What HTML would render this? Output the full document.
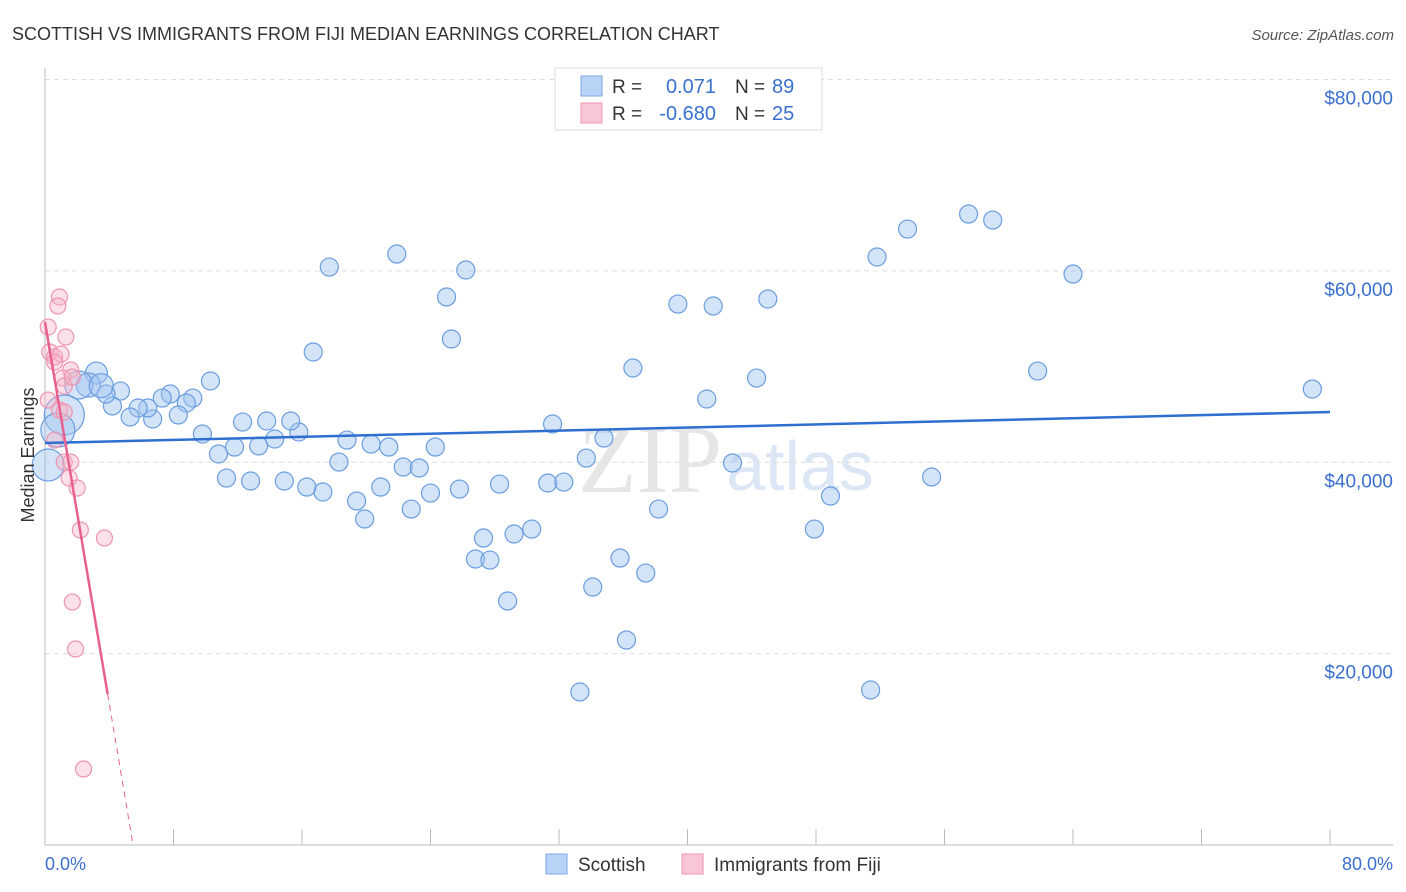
<!DOCTYPE html>
<html><head><meta charset="utf-8"><style>
body{margin:0;background:#fff;font-family:"Liberation Sans",sans-serif;}
svg{display:block}
</style></head><body>
<svg id="chart" width="1406" height="892" xmlns="http://www.w3.org/2000/svg">
<text x="12" y="40" font-size="18" fill="#333">SCOTTISH VS IMMIGRANTS FROM FIJI MEDIAN EARNINGS CORRELATION CHART</text>
<text x="1394" y="40" font-size="15" fill="#555" font-style="italic" text-anchor="end">Source: ZipAtlas.com</text>
<text x="650" y="492" font-size="96" fill="#e6e6e6" font-family="Liberation Serif,serif" text-anchor="middle">ZIP</text>
<text x="800" y="490" font-size="70" fill="#dce7f5" text-anchor="middle">atlas</text>
<g id="grid"></g>
<g id="axes"></g>
<g id="pts"></g>
<g id="lines"></g>
<text transform="translate(34,455) rotate(-90)" font-size="18" fill="#333" text-anchor="middle">Median Earnings</text>
<text x="45" y="870" font-size="18" fill="#3a70cf">0.0%</text>
<text x="1393" y="870" font-size="18" fill="#3a70cf" text-anchor="end">80.0%</text>
<g>
<rect x="555" y="68" width="267" height="62" fill="#fff" stroke="#ddd"/>
<rect x="581" y="76" width="21" height="20" fill="#b8d3f5" stroke="#7aa7e6"/>
<rect x="581" y="103" width="21" height="20" fill="#f9c6d6" stroke="#ee96b2"/>
<text x="612" y="93" font-size="19" fill="#333">R = </text><text x="716" y="93" font-size="20" fill="#3a70cf" text-anchor="end">0.071</text>
<text x="735" y="93" font-size="19" fill="#333">N = </text><text x="772" y="93" font-size="20" fill="#3a70cf">89</text>
<text x="612" y="120" font-size="19" fill="#333">R = </text><text x="716" y="120" font-size="20" fill="#3a70cf" text-anchor="end">-0.680</text>
<text x="735" y="120" font-size="19" fill="#333">N = </text><text x="772" y="120" font-size="20" fill="#3a70cf">25</text>
</g>
<g>
<rect x="546" y="854" width="21" height="20" fill="#b8d3f5" stroke="#7aa7e6"/>
<text x="578" y="871" font-size="19" fill="#333">Scottish</text>
<rect x="682" y="854" width="21" height="20" fill="#f9c6d6" stroke="#ee96b2"/>
<text x="714" y="871" font-size="19" fill="#333">Immigrants from Fiji</text>
</g>
</svg>
<script>
const yTicks=[20000,40000,60000,80000];
const yTickLabels=["$20,000","$40,000","$60,000","$80,000"];
const blueX=[17.7,21.9,26.2,25.0,25.3,16.7,57.5,59.0,53.7,51.8,64.0,39.4,41.6,45.0,36.6,44.3,61.8,78.9,41.2,31.6,34.8,33.7,42.8,55.2,48.9,38.2,47.9,31.3,32.3,35.8,37.4,34.1,36.2,33.3,51.4,28.8,27.3,26.8,27.7,29.2,30.3,28.3,25.8,24.0,22.8,24.3,22.3,23.3,21.4,20.3,18.8,18.3,20.9,19.4,19.9,17.3,16.3,14.9,12.8,11.3,10.8,11.8,13.3,14.3,15.8,15.3,13.8,12.3,9.8,10.3,9.2,8.8,7.8,7.3,8.3,6.7,6.4,5.8,5.3,4.7,4.2,3.8,3.2,2.7,2.1,1.2,0.8,0.2,3.5];
const blueY=[60400,61760,60090,57270,52880,51520,65940,65310,64370,61450,59670,56530,56330,57060,49850,48800,49530,47650,46610,44000,42530,40440,39920,38460,36470,35110,33020,37830,37930,29990,28420,26960,21420,15990,16200,25500,32080,29890,29780,32500,33020,37720,37200,36780,35110,41590,39500,39400,41590,41900,42320,40020,37410,35950,34070,36890,37410,38040,38040,38350,40860,41590,41700,42430,43160,44310,44310,44200,42950,48490,46710,46190,47130,46710,44940,44520,45670,45670,44730,47440,45880,47130,49320,48070,48070,44940,43370,39710,48000];
const blueR=[9,9,9,9,9,9,9,9,9,9,9,9,9,9,9,9,9,9,9,9,9,9,9,9,9,9,9,9,9,9,9,9,9,9,9,9,9,9,9,9,9,9,9,9,9,9,9,9,9,9,9,9,9,9,9,9,9,9,9,9,9,9,9,9,9,9,9,9,9,9,9,9,9,9,9,9,9,9,9,9,9,9,11,12,14,20,17,16,12];
const pinkX=[0.9,0.8,0.2,1.3,0.3,0.6,1.0,0.6,1.6,1.1,1.2,1.7,0.2,0.9,1.2,0.6,1.2,1.6,1.5,2.0,2.2,3.7,1.7,1.9,2.4];
const pinkY=[57270,56330,54130,53090,51520,51000,51310,50470,49640,48800,47960,48910,46500,45460,45250,42320,40020,40020,38350,37310,32920,32080,25390,20480,7940];
const blueTrend=[42010,45250];
const pinkTrend=[54650,-9967];
const X0=45,X1=1330,Y0=845,YPX=765.5/80000;
const sx=v=>X0+(v/80)*(X1-X0);
const sy=v=>Y0-v*YPX;
const NS="http://www.w3.org/2000/svg";
function mk(tag,attrs,parent){const e=document.createElementNS(NS,tag);for(const k in attrs)e.setAttribute(k,attrs[k]);document.getElementById(parent).appendChild(e);return e;}
yTicks.forEach((t,i)=>{
 const l=mk('line',{x1:X0,x2:1393,y1:sy(t),y2:sy(t),stroke:'#ddd','stroke-dasharray':'5,4'},'grid');
 
 
 const tx=mk('text',{x:1393,y:sy(t)+25,'font-size':19,fill:'#3a70cf','text-anchor':'end'},'grid');
 tx.textContent=yTickLabels[i];
 
 
});
const ax=mk('line',{x1:X0,x2:X0,y1:68,y2:Y0,stroke:'#bbb'},'axes');


const bx=mk('line',{x1:X0,x2:1393,y1:Y0,y2:Y0,stroke:'#bbb'},'axes');


for(let i=0;i<=10;i++){
 const t=mk('line',{x1:sx(i*8),x2:sx(i*8),y1:Y0,y2:Y0-16,stroke:'#bbb'},'axes');
 
 
}
blueX.forEach((x,i)=>{
 const c=mk('circle',{cx:sx(x),cy:sy(blueY[i]),r:blueR[i],fill:'rgba(160,195,240,0.45)',stroke:'#6a9de0','stroke-width':1.2},'pts');
 
 
});
pinkX.forEach((x,i)=>{
 const c=mk('circle',{cx:sx(x),cy:sy(pinkY[i]),r:8,fill:'rgba(248,180,200,0.4)',stroke:'#ee95b0','stroke-width':1.2},'pts');
 
 
});
const bl=mk('line',{x1:sx(0),y1:sy(blueTrend[0]),x2:sx(80),y2:sy(blueTrend[1]),stroke:'#2f6fd0','stroke-width':2.5},'lines');


const pf=x=>pinkTrend[0]+pinkTrend[1]*x;
const pl=mk('line',{x1:sx(0),y1:sy(pf(0)),x2:sx(3.9),y2:sy(pf(3.9)),stroke:'#e8608c','stroke-width':2.5},'lines');


const xe=-pinkTrend[0]/pinkTrend[1];
const pd=mk('line',{x1:sx(3.9),y1:sy(pf(3.9)),x2:sx(xe),y2:sy(0),stroke:'#e8608c','stroke-width':1,'stroke-dasharray':'6,5'},'lines');


</script>
</body></html>
